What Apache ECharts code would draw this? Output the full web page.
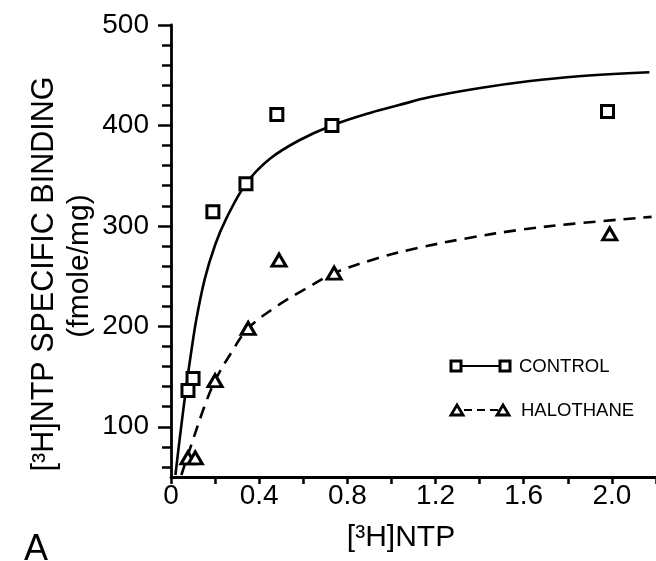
<!DOCTYPE html>
<html>
<head>
<meta charset="utf-8">
<script src="https://cdn.jsdelivr.net/npm/echarts@6/dist/echarts.min.js"></script>
<style>
  html, body { margin: 0; padding: 0; background: #fff; }
  #chart { width: 656px; height: 561px; }
</style>
</head>
<body>
<div id="chart"></div>
<script>
// measured points, [3H]NTP vs specific binding
const controlPoints = [[0.077, 136], [0.10, 148], [0.19, 314], [0.34, 342], [0.48, 411], [0.73, 400], [1.98, 414]];
const halothanePoints = [[0.077, 69], [0.11, 69], [0.20, 146], [0.35, 198], [0.49, 266], [0.74, 253], [1.99, 292]];

// fitted curves
const controlCurve = [[0.02, 52], [0.045, 98], [0.07, 141], [0.09, 172], [0.115, 207], [0.153, 247], [0.2, 281],
  [0.25, 307], [0.34, 342], [0.45, 367], [0.58, 385], [0.73, 400], [0.91, 413], [1.03, 420], [1.17, 428],
  [1.395, 437], [1.62, 444], [1.85, 449], [2.17, 453]];
const halothaneCurve = [[0.047, 52], [0.092, 82], [0.153, 121], [0.2, 146], [0.274, 174], [0.35, 198], [0.486, 221],
  [0.608, 237], [0.74, 253], [0.94, 268], [1.12, 278], [1.35, 288], [1.58, 296], [1.82, 302], [2.18, 309]];

const yLabelTicks = [100, 200, 300, 400, 500];
const yMinorTicks = [60, 80, 100, 120, 140, 160, 180, 200, 220, 240, 260, 280, 300, 320, 340, 360, 380, 400, 420, 440, 460, 480, 500];
const xLabelTicks = [0, 0.4, 0.8, 1.2, 1.6, 2.0];

const FONT = '"Liberation Sans", Arial, sans-serif';
const INK = '#000';

const chart = echarts.init(document.getElementById('chart'));

const option = {
  animation: false,
  backgroundColor: '#fff',
  grid: { left: 171, right: 0, top: 25, bottom: 84 },
  xAxis: {
    type: 'value',
    min: 0,
    max: 2.2,
    interval: 0.2,
    axisLine: { lineStyle: { color: INK, width: 2.8 } },
    axisTick: { inside: false, length: 7, lineStyle: { color: INK, width: 2.5 } },
    axisLabel: {
      customValues: xLabelTicks,
      margin: 5,
      fontFamily: FONT, fontSize: 28, color: INK,
      formatter: v => (v === 0 ? '0' : v.toFixed(1))
    },
    splitLine: { show: false }
  },
  yAxis: [
    {
      type: 'value',
      min: 50,
      max: 500,
      axisLine: { onZero: false, lineStyle: { color: INK, width: 2.8 } },
      axisTick: { customValues: yMinorTicks, length: 9, lineStyle: { color: INK, width: 2.5 } },
      axisLabel: { customValues: yLabelTicks, margin: 22, fontFamily: FONT, fontSize: 28, color: INK },
      splitLine: { show: false }
    },
    {
      type: 'value',
      min: 50,
      max: 500,
      position: 'left',
      axisLine: { show: false },
      axisTick: { show: true, customValues: yLabelTicks, length: 13, lineStyle: { color: INK, width: 2.5 } },
      axisLabel: { show: false },
      splitLine: { show: false }
    }
  ],
  series: [
    {
      name: 'CONTROL fit',
      type: 'line',
      data: controlCurve,
      smooth: 0.35,
      showSymbol: false,
      lineStyle: { color: INK, width: 2.6 },
      z: 2
    },
    {
      name: 'HALOTHANE fit',
      type: 'line',
      data: halothaneCurve,
      smooth: 0.35,
      showSymbol: false,
      lineStyle: { color: INK, width: 2.6, type: [12, 8] },
      z: 2
    },
    {
      name: 'CONTROL',
      type: 'scatter',
      data: controlPoints,
      symbol: 'rect',
      symbolSize: 12,
      itemStyle: { color: '#fff', borderColor: INK, borderWidth: 3, opacity: 1 },
      z: 3
    },
    {
      name: 'HALOTHANE',
      type: 'scatter',
      data: halothanePoints,
      symbol: 'triangle',
      symbolSize: [14, 12],
      itemStyle: { color: '#fff', borderColor: INK, borderWidth: 3, opacity: 1 },
      z: 3
    }
  ],
  graphic: [
    {
      type: 'text', x: 45, y: 274, rotation: Math.PI / 2,
      style: { text: '[³H]NTP SPECIFIC BINDING', font: '30.5px ' + FONT, fill: INK, align: 'center', verticalAlign: 'middle' }
    },
    {
      type: 'text', x: 80, y: 266, rotation: Math.PI / 2,
      style: { text: '(fmole/mg)', font: '30px ' + FONT, fill: INK, align: 'center', verticalAlign: 'middle' }
    },
    {
      type: 'text', x: 401, y: 538,
      style: { text: '[³H]NTP', font: '30px ' + FONT, fill: INK, align: 'center', verticalAlign: 'middle' }
    },
    {
      type: 'text', x: 24, y: 532,
      style: { text: 'A', font: '36px ' + FONT, fill: INK }
    },
    // legend drawn by hand: marker-line-marker then label
    { type: 'line', shape: { x1: 461, y1: 366, x2: 500, y2: 366 }, style: { stroke: INK, lineWidth: 2 } },
    { type: 'rect', shape: { x: 451, y: 361, width: 10, height: 10 }, style: { fill: '#fff', stroke: INK, lineWidth: 3 } },
    { type: 'rect', shape: { x: 500, y: 361, width: 10, height: 10 }, style: { fill: '#fff', stroke: INK, lineWidth: 3 } },
    { type: 'text', x: 519, y: 367, style: { text: 'CONTROL', font: '18.5px ' + FONT, fill: INK, verticalAlign: 'middle' } },
    { type: 'line', shape: { x1: 464, y1: 410, x2: 498, y2: 410 }, style: { stroke: INK, lineWidth: 2.2, lineDash: [8, 5] } },
    { type: 'polygon', shape: { points: [[451, 415], [463, 415], [457, 405]] }, style: { fill: '#fff', stroke: INK, lineWidth: 2.8 } },
    { type: 'polygon', shape: { points: [[497, 415], [509, 415], [503, 405]] }, style: { fill: '#fff', stroke: INK, lineWidth: 2.8 } },
    { type: 'text', x: 521, y: 411, style: { text: 'HALOTHANE', font: '18.5px ' + FONT, fill: INK, verticalAlign: 'middle' } }
  ]
};

chart.setOption(option);
</script>
</body>
</html>
